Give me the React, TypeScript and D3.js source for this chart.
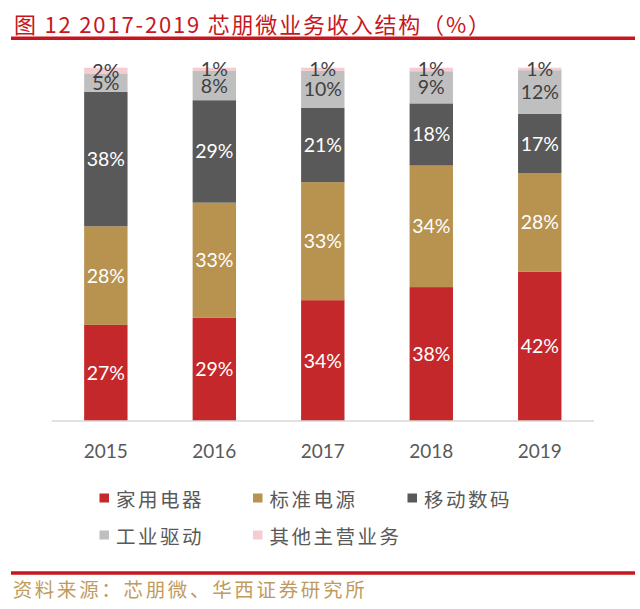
import React from "react";
import * as d3 from "d3";

const years = ["2015", "2016", "2017", "2018", "2019"];
const seriesNames = ["家用电器", "标准电源", "移动数码", "工业驱动", "其他主营业务"];
const homeAppliance = [27.2, 29.2, 34.2, 37.9, 42.3];
const standardPower = [27.9, 32.6, 33.4, 34.4, 27.9];
const mobileDigital = [38.1, 29.0, 21.1, 17.6, 16.7];
const industrialDrive = [5.2, 8.3, 10.4, 9.1, 12.4];
const otherMain = [1.6, 0.9, 0.9, 1.0, 0.7];
const seriesColors = ["#C5282B", "#B8924F", "#595959", "#BFBFBF", "#F5CDD0"];
const labelColors = ["#FFFFFF", "#FFFFFF", "#FFFFFF", "#404040", "#404040"];

const title = "图 12 2017-2019 芯朋微业务收入结构（%）";
const source = "资料来源：芯朋微、华西证券研究所";

const W = 640;
const H = 609;

export default function App() {
  const seriesValues = [homeAppliance, standardPower, mobileDigital, industrialDrive, otherMain];
  const rows = years.map((y, i) => {
    const r: any = { year: y };
    seriesNames.forEach((n, k) => (r[n] = seriesValues[k][i]));
    return r;
  });
  const stack = d3.stack<any>().keys(seriesNames)(rows);

  const x = d3.scaleBand<string>().domain(years).range([51.6, 594]).paddingInner(0.6).paddingOuter(0.3);
  const y = d3.scaleLinear().domain([0, 100]).range([421, 67.7]);

  const labelFont = "Lato, 'Noto Sans', sans-serif";
  const cjkFont = "'Noto Sans CJK SC', sans-serif";

  const legendPos = [
    { x: 99.5, y: 498 },
    { x: 253, y: 498 },
    { x: 407.5, y: 498 },
    { x: 99.5, y: 535 },
    { x: 253, y: 535 },
  ];

  return (
    <svg width={W} height={H} style={{ position: "absolute", left: 0, top: 0, background: "#fff" }}>
      <text
        x={14}
        y={22.5}
        fill="#C8161E"
        fontFamily={cjkFont}
        fontSize={22}
        dominantBaseline="central"
        textLength={476}
        lengthAdjust="spacing"
      >
        {title}
      </text>
      <line x1={11} x2={635} y1={38.3} y2={38.3} stroke="#C8161E" strokeWidth={3.5} />

      {stack.map((layer, k) => (
        <g key={seriesNames[k]}>
          {layer.map((d, i) => (
            <rect
              key={years[i]}
              x={x(years[i])}
              width={x.bandwidth()}
              y={y(d[1])}
              height={y(d[0]) - y(d[1])}
              fill={seriesColors[k]}
            />
          ))}
        </g>
      ))}

      <line x1={51.6} x2={594} y1={421} y2={421} stroke="#D9D9D9" strokeWidth={1.3} />

      {stack.map((layer, k) => (
        <g key={"l" + seriesNames[k]}>
          {layer.map((d, i) => (
            <text
              key={years[i]}
              x={(x(years[i]) as number) + x.bandwidth() / 2}
              y={(y(d[0]) + y(d[1])) / 2}
              dy="0.36em"
              textAnchor="middle"
              fill={labelColors[k]}
              fontFamily={labelFont}
              fontSize={19.5}
            >
              {Math.round(d[1] - d[0]) + "%"}
            </text>
          ))}
        </g>
      ))}

      {years.map((yr) => (
        <text
          key={yr}
          x={(x(yr) as number) + x.bandwidth() / 2}
          y={457.7}
          textAnchor="middle"
          fill="#595959"
          fontFamily={labelFont}
          fontSize={19}
        >
          {yr}
        </text>
      ))}

      {seriesNames.map((n, k) => (
        <g key={"lg" + n} transform={`translate(${legendPos[k].x},${legendPos[k].y})`}>
          <rect x={0} y={-4.5} width={9.5} height={9} fill={seriesColors[k]} />
          <text
            x={16.5}
            y={0}
            dominantBaseline="central"
            fill="#595959"
            fontFamily={cjkFont}
            fontSize={19.5}
            letterSpacing={2.5}
          >
            {n}
          </text>
        </g>
      ))}

      <line x1={11} x2={635} y1={573} y2={573} stroke="#C8161E" strokeWidth={3.5} />
      <text
        x={12.7}
        y={588}
        fill="#BF9B5E"
        fontFamily={cjkFont}
        fontSize={19.5}
        dominantBaseline="central"
        textLength={352}
        lengthAdjust="spacing"
      >
        {source}
      </text>
    </svg>
  );
}
